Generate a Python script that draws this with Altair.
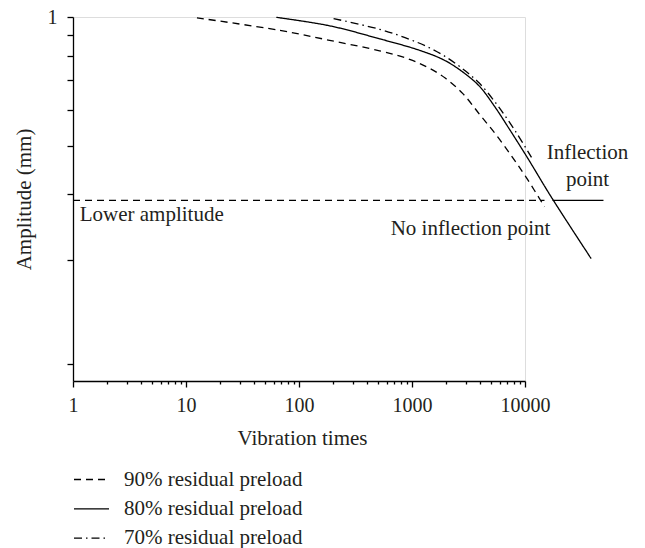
import altair as alt
import pandas as pd

# ---- data ----
series_names = ["90% residual preload", "80% residual preload", "70% residual preload"]

s90_x = [12.5, 67.4, 186.5, 516.4, 951.3, 1430, 1981, 2818, 3958, 5597, 7752, 10247, 14877]
s90_y = [0.995, 0.9246, 0.8727, 0.8223, 0.7841, 0.7462, 0.7068, 0.6518, 0.5859, 0.5273, 0.4740, 0.4315, 0.3775]

s80_x = [63.0, 186.5, 516.4, 1166, 1941, 2916, 3958, 5374, 7295, 10523, 17153, 38510]
s80_y = [0.998, 0.9493, 0.8803, 0.8246, 0.7798, 0.7263, 0.6773, 0.6102, 0.5432, 0.4729, 0.3938, 0.302]

s70_x = [202.3, 516.4, 951.3, 1430, 2021, 2916, 3958, 5713, 8240, 11414]
s70_y = [0.9905, 0.930, 0.8777, 0.8363, 0.7929, 0.7383, 0.6882, 0.6133, 0.5378, 0.474]

lower_amp = 0.3886
lower_x = [1, 14877]
inflect_x = [17510, 49480]

x_major = [1, 10, 100, 1000, 10000]
x_ticks = [m * k for m in [1, 10, 100, 1000] for k in range(1, 10)] + [10000]
y_ticks = [0.2, 0.3, 0.4, 0.5, 0.6, 0.7, 0.8, 0.9, 1.0]

ann_text = ["Lower amplitude", "No inflection point", "Inflection", "point"]
ann_x = [1.146, 3296, 35710, 35710]
ann_y = [0.3635, 0.343, 0.4832, 0.4256]
ann_align = ["left", "center", "center", "center"]

FONT = "Liberation Serif"
TXT = "#231f20"
FS = 21

rows = []
for name, xs, ys in zip(series_names, [s90_x, s80_x, s70_x], [s90_y, s80_y, s70_y]):
    for i, (a, b) in enumerate(zip(xs, ys)):
        rows.append({"series": name, "x": a, "y": b, "i": i})
curves = pd.DataFrame(rows)

xscale = alt.Scale(type="log", domain=[1, 10000], nice=False)
yscale = alt.Scale(type="pow", exponent=-0.3, domain=[0.188, 1], zero=False, nice=False)

major_test = " || ".join(f"datum.value == {v}" for v in x_major)

x_axis = alt.Axis(
    values=x_ticks, format="d",
    labelExpr=f"({major_test}) ? datum.label : ''",
    tickSize={"condition": {"test": major_test, "value": 6}, "value": 3},
    grid=False, title="Vibration times",
    labelFont=FONT, labelFontSize=20, labelColor=TXT, labelPadding=8,
    titleFont=FONT, titleFontSize=FS, titleColor=TXT, titleFontWeight="normal",
    titleX=229, titleY=57, titleBaseline="middle", titleAlign="center",
    domainColor="black", tickColor="black", domainWidth=1.3, tickWidth=1.3,
    labelFlush=False, labelOverlap=False,
)
y_axis = alt.Axis(
    values=y_ticks, labelExpr="datum.value == 1 ? '1' : ''",
    tickSize=6, grid=False, title="Amplitude (mm)",
    labelFont=FONT, labelFontSize=20, labelColor=TXT, labelPadding=10,
    titleFont=FONT, titleFontSize=FS, titleColor=TXT, titleFontWeight="normal",
    titleX=-49, titleY=182, titleAngle=-90, titleBaseline="middle", titleAlign="center",
    domainColor="black", tickColor="black", domainWidth=1.3, tickWidth=1.3,
    labelFlush=False, labelOverlap=False,
)

lines = alt.Chart(curves).mark_line(interpolate="catmull-rom", strokeWidth=1.3, color="black").encode(
    x=alt.X("x:Q", scale=xscale, axis=x_axis),
    y=alt.Y("y:Q", scale=yscale, axis=y_axis),
    strokeDash=alt.StrokeDash(
        "series:N",
        scale=alt.Scale(domain=series_names, range=[[7, 5], [1, 0], [8, 4, 1.5, 4]]),
        sort=series_names,
        legend=alt.Legend(
            title=None, orient="none", legendX=0, legendY=444,
            symbolType="stroke", symbolSize=1225, symbolStrokeWidth=1.3,
            symbolStrokeColor="black", labelFont=FONT, labelFontSize=FS,
            labelColor=TXT, labelOffset=14, rowPadding=0.3, labelLimit=400,
        ),
    ),
    detail="series:N",
    order="i:Q",
)

lower_df = pd.DataFrame({"x": [lower_x[0]], "x2": [lower_x[1]], "y": [lower_amp]})
inflect_df = pd.DataFrame({"x": [inflect_x[0]], "x2": [inflect_x[1]], "y": [lower_amp]})

lower_rule = alt.Chart(lower_df).mark_rule(strokeDash=[7, 5], strokeWidth=1.3, color="black").encode(
    x=alt.X("x:Q", scale=xscale), x2="x2:Q", y=alt.Y("y:Q", scale=yscale)
)
inflect_rule = alt.Chart(inflect_df).mark_rule(strokeWidth=1.3, color="black").encode(
    x=alt.X("x:Q", scale=xscale), x2="x2:Q", y=alt.Y("y:Q", scale=yscale)
)

ann_df = pd.DataFrame({"t": ann_text, "x": ann_x, "y": ann_y, "a": ann_align})
ann_left = alt.Chart(ann_df[ann_df.a == "left"]).mark_text(
    font=FONT, fontSize=FS, color=TXT, align="left", baseline="middle"
).encode(x=alt.X("x:Q", scale=xscale), y=alt.Y("y:Q", scale=yscale), text="t:N")
ann_center = alt.Chart(ann_df[ann_df.a == "center"]).mark_text(
    font=FONT, fontSize=FS, color=TXT, align="center", baseline="middle"
).encode(x=alt.X("x:Q", scale=xscale), y=alt.Y("y:Q", scale=yscale), text="t:N")

chart = alt.layer(lines, lower_rule, inflect_rule, ann_left, ann_center).properties(
    width=452, height=364,
    autosize=alt.AutoSizeParams(type="none"),
    padding={"left": 73, "top": 17, "right": 120, "bottom": 167},
).configure_view(stroke=None).configure(background="white")

chart.save("out.html", embed_options={"renderer": "svg", "actions": False})
